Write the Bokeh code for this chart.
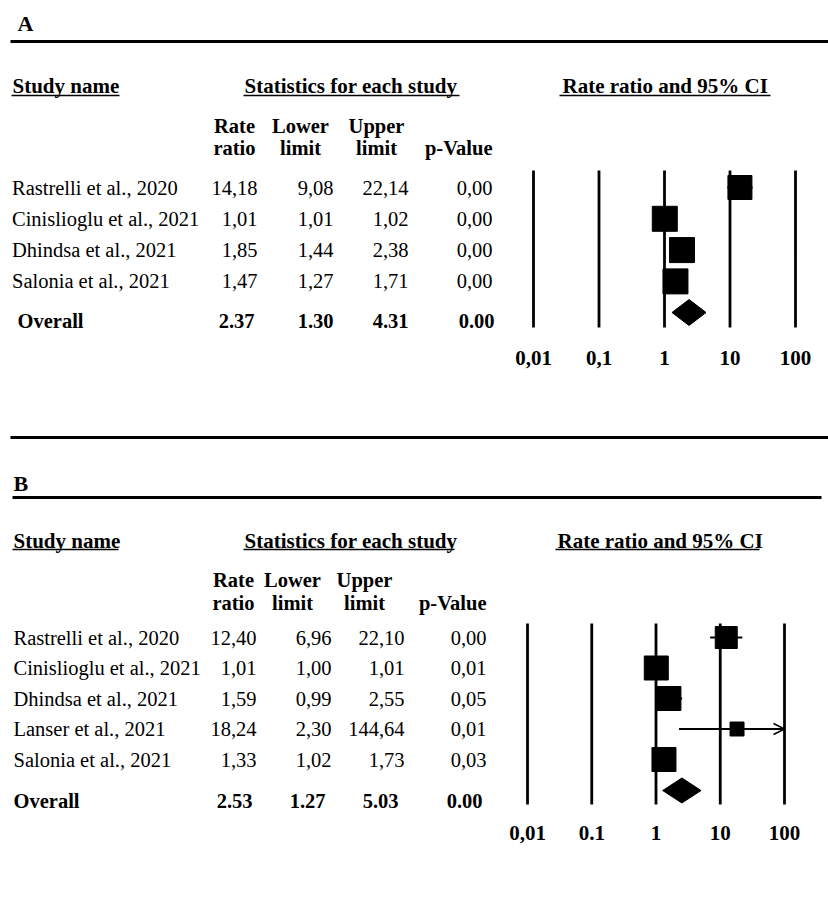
import math
from bokeh.plotting import figure
from bokeh.models import Range1d, LogScale, Arrow, OpenHead
from bokeh.core.properties import value
from bokeh.embed import file_html
from bokeh.resources import INLINE

# ---------------- data ----------------
studies_a = ["Rastrelli et al., 2020", "Cinislioglu et al., 2021",
             "Dhindsa et al., 2021", "Salonia et al., 2021"]
rr_a = [14.18, 1.01, 1.85, 1.47]
lo_a = [9.08, 1.01, 1.44, 1.27]
hi_a = [22.14, 1.02, 2.38, 1.71]
p_a = [0.00, 0.00, 0.00, 0.00]
overall_a = [2.37, 1.30, 4.31, 0.00]  # rate ratio, lower, upper, p

studies_b = ["Rastrelli et al., 2020", "Cinislioglu et al., 2021",
             "Dhindsa et al., 2021", "Lanser et al., 2021", "Salonia et al., 2021"]
rr_b = [12.40, 1.01, 1.59, 18.24, 1.33]
lo_b = [6.96, 1.00, 0.99, 2.30, 1.02]
hi_b = [22.10, 1.01, 2.55, 144.64, 1.73]
p_b = [0.00, 0.01, 0.05, 0.01, 0.03]
overall_b = [2.53, 1.27, 5.03, 0.00]

ticks = [0.01, 0.1, 1, 10, 100]
tick_labels_a = ["0,01", "0,1", "1", "10", "100"]
tick_labels_b = ["0,01", "0.1", "1", "10", "100"]

# marker sizes (style: study weight squares, px)
sq_a = [24, 25, 25, 25]
sq_b = [22, 24, 24, 14, 24]

# ---------------- figure ----------------
W, H = 828, 895
X0, Y0 = 0, 0
p = figure(width=W, height=H, x_range=Range1d(X0, X0 + W), y_range=Range1d(Y0 + H, Y0),
           x_axis_type=None, y_axis_type=None, output_backend="svg",
           toolbar_location=None, min_border=0, outline_line_color=None)
p.grid.visible = False

FONT = value("Liberation Serif")


def log_range(px_lo, px_hi):
    # px_lo <-> first tick, px_hi <-> last tick
    t0, t1 = math.log10(ticks[0]), math.log10(ticks[-1])
    ppd = (px_hi - px_lo) / (t1 - t0)
    left = t0 - (px_lo - X0) / ppd
    right = t1 + (X0 + W - px_hi) / ppd
    return Range1d(10 ** left, 10 ** right)


p.extra_x_ranges = {"A": log_range(533, 795), "B": log_range(527, 784)}
p.extra_x_scales = {"A": LogScale(), "B": LogScale()}


def fmt(v, sep=","):
    return f"{v:.2f}".replace(".", sep)


def txt(x, y, s, size="20.5px", bold=False, align="left"):
    p.text(x=[x], y=[y], text=[s], text_font=FONT, text_font_size=size,
           text_font_style="bold" if bold else "normal", text_align=align,
           text_baseline="middle", text_color="black")


def panel(name, L, studies, rr, lo, hi, pv, overall, tick_labels, sizes, rng):
    # letter and rules
    txt(L["letter_x"], L["letter_y"], name, size="22px", bold=True)
    for (xa, xb, y) in L["rules"]:
        p.segment(x0=[xa], x1=[xb], y0=[y], y1=[y], line_color="black", line_width=3)
    # section headers with underline
    for (x, s, ux0, ux1) in L["heads"]:
        txt(x, L["head_y"], s, size="21px", bold=True)
        p.segment(x0=[ux0], x1=[ux1], y0=[L["uline_y"]], y1=[L["uline_y"]],
                  line_color="black", line_width=1.5)
    # column headers
    c = L["cols"]
    txt(c["rr_h"], L["h1"], "Rate", size="20.5px", bold=True, align="center")
    txt(c["rr_h"], L["h2"], "ratio", size="20.5px", bold=True, align="center")
    txt(c["lo_h"], L["h1"], "Lower", size="20.5px", bold=True, align="center")
    txt(c["lo_h"], L["h2"], "limit", size="20.5px", bold=True, align="center")
    txt(c["hi_h"], L["h1"], "Upper", size="20.5px", bold=True, align="center")
    txt(c["hi_h"], L["h2"], "limit", size="20.5px", bold=True, align="center")
    txt(c["p"], L["h2"], "p-Value", size="20.5px", bold=True, align="right")

    # rows
    ys = [L["row0"] + i * L["step"] for i in range(len(studies))]
    p.text(x=[L["name_x"]] * len(studies), y=ys, text=studies, text_font=FONT,
           text_font_size="20.5px", text_align="left", text_baseline="middle")
    for key, vals in (("rr", rr), ("lo", lo), ("hi", hi), ("p", pv)):
        p.text(x=[c[key]] * len(vals), y=ys, text=[fmt(v) for v in vals], text_font=FONT,
               text_font_size="20.5px", text_align="right", text_baseline="middle")
    # overall row
    oy = L["ov_text_y"]
    txt(L["ov_x"], oy, "Overall", size="20.5px", bold=True)
    for key, v in zip(("orr", "olo", "ohi", "op"), overall):
        txt(c[key], oy, fmt(v, "."), size="20.5px", bold=True, align="right")

    # forest plot
    p.segment(x0=ticks, x1=ticks, y0=[L["vtop"]] * len(ticks), y1=[L["vbot"]] * len(ticks),
              x_range_name=rng, line_color="black", line_width=2.8)
    p.text(x=ticks, y=[L["tick_y"]] * len(ticks), text=tick_labels, text_font=FONT,
           text_font_size="21px", text_font_style="bold", text_align="center",
           text_baseline="middle", x_range_name=rng)
    mx = ticks[-1]
    hi_c = [min(h, mx) for h in hi]
    p.segment(x0=lo, x1=hi_c, y0=ys, y1=ys, x_range_name=rng, line_color="black", line_width=2)
    for l, h, y in zip(lo, hi, ys):
        if h > mx:
            p.add_layout(Arrow(end=OpenHead(size=11, line_width=1.5, line_color="black"),
                               x_start=l, x_end=mx, y_start=y, y_end=y, x_range_name=rng,
                               line_width=2, line_color="black"))
    p.scatter(x=rr, y=ys, size=sizes, marker="square", x_range_name=rng,
              fill_color="black", line_color="black")
    dy = L["ov_dia_y"]
    hh = L["dia_h"]
    p.patch(x=[overall[1], overall[0], overall[2], overall[0]],
            y=[dy, dy - hh, dy, dy + hh], x_range_name=rng,
            fill_color="black", line_color="black")


LA = dict(letter_x=17, letter_y=23,
          rules=[(10, 830, 41)],
          head_y=85, uline_y=95,
          heads=[(12, "Study name", 11, 119), (244, "Statistics for each study", 243, 459),
                 (562, "Rate ratio and 95% CI", 559, 770)],
          h1=125, h2=147,
          cols=dict(rr_h=234, lo_h=300, hi_h=376, rr=257, lo=333, hi=408, p=492,
                    orr=254, olo=333, ohi=408, op=494),
          name_x=11.5, row0=187, step=31.3,
          ov_x=17, ov_text_y=320, ov_dia_y=312, dia_h=13,
          vtop=170, vbot=327, tick_y=357)

LB = dict(letter_x=13, letter_y=483,
          rules=[(10, 830, 437), (12, 821, 497)],
          head_y=540, uline_y=549,
          heads=[(13, "Study name", 12, 118), (244, "Statistics for each study", 243, 454),
                 (557, "Rate ratio and 95% CI", 555, 759)],
          h1=579, h2=602,
          cols=dict(rr_h=233, lo_h=292, hi_h=364, rr=256, lo=331, hi=404, p=486,
                    orr=252, olo=325, ohi=398, op=482),
          name_x=13, row0=637, step=30.5,
          ov_x=13, ov_text_y=800, ov_dia_y=790, dia_h=12.5,
          vtop=623, vbot=804, tick_y=832)

panel("A", LA, studies_a, rr_a, lo_a, hi_a, p_a, overall_a, tick_labels_a, sq_a, "A")
panel("B", LB, studies_b, rr_b, lo_b, hi_b, p_b, overall_b, tick_labels_b, sq_b, "B")

open("out.html", "w").write(file_html(p, INLINE))
